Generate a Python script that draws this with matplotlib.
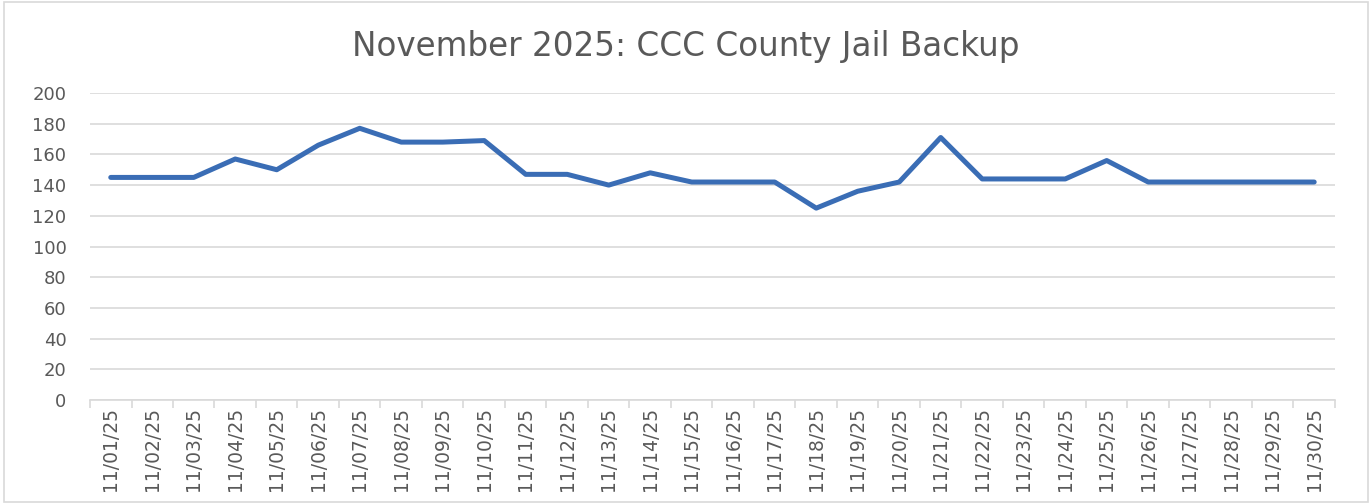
import matplotlib.pyplot as plt
from matplotlib.patches import Rectangle

# daily jail backup counts, November 2025
dates = ["11/%02d/25" % d for d in range(1, 31)]
backup = [145, 145, 145, 157, 150, 166, 177, 168, 168, 169,
          147, 147, 140, 148, 142, 142, 142, 125, 136, 142,
          171, 144, 144, 144, 156, 142, 142, 142, 142, 142]
y_ticks = [0, 20, 40, 60, 80, 100, 120, 140, 160, 180, 200]

text_color = "#595959"
grid_color = "#d9d9d9"
line_color = "#3a6db5"

fig = plt.figure(figsize=(13.72, 5.04), dpi=100)
ax = fig.add_axes([0.0656, 0.2063, 0.9074, 0.6092])

x = range(len(dates))
ax.plot(x, backup, color=line_color, linewidth=3.6, solid_capstyle="round",
        solid_joinstyle="round", zorder=3)

ax.set_ylim(0, 200)
ax.set_xlim(-0.5, len(dates) - 0.5)
ax.set_yticks(y_ticks)
ax.yaxis.grid(True, color=grid_color, linewidth=1.2)
ax.set_axisbelow(True)

ax.set_xticks(list(x))
ax.set_xticklabels(dates, rotation=90, fontsize=13.5, color=text_color)
ax.set_xticks([i - 0.5 for i in range(len(dates) + 1)], minor=True)
ax.tick_params(axis="x", which="major", length=0, pad=5)
ax.tick_params(axis="x", which="minor", length=6, color=grid_color, width=1.2)
ax.tick_params(axis="y", length=0, labelsize=13, labelcolor=text_color, pad=17)

for side in ["top", "right", "left"]:
    ax.spines[side].set_visible(False)
ax.spines["bottom"].set_color(grid_color)
ax.spines["bottom"].set_linewidth(1.2)

fig.text(0.5, 0.908, "November 2025: CCC County Jail Backup", ha="center",
         va="center", fontsize=23.5, color=text_color)

# chart border
fig.patches.append(Rectangle((0.003, 0.004), 0.994, 0.992, transform=fig.transFigure,
                             fill=False, edgecolor=grid_color, linewidth=1.2))

fig.savefig("out.png", dpi=100)
